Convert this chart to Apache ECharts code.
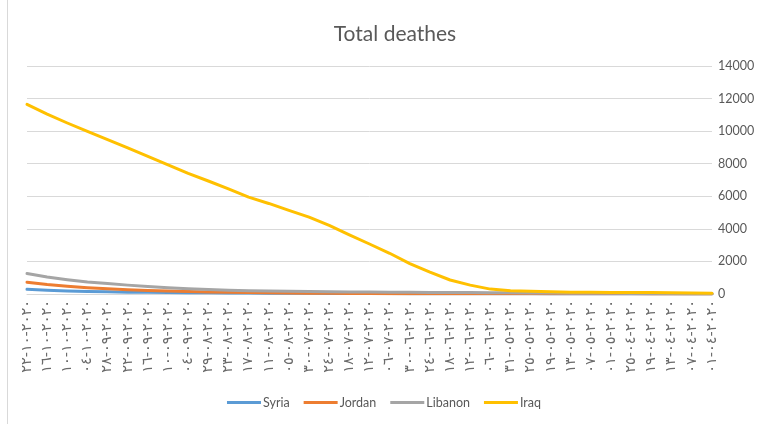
<!DOCTYPE html>
<html>
<head>
<meta charset="utf-8">
<script src="https://cdn.jsdelivr.net/npm/echarts@6/dist/echarts.min.js"></script>
<style>
  html, body { margin: 0; padding: 0; background: #fff; }
  #main { width: 768px; height: 424px; }
</style>
</head>
<body>
<div id="main"></div>
<script>
// dates (logical order yyyy-mm-dd; bidi shows them as dd-mm-yyyy like the sheet)
var categories = [
  "٢٠٢٠-١٠-٢٢", "٢٠٢٠-١٠-١٦", "٢٠٢٠-١٠-١٠", "٢٠٢٠-١٠-٠٤", "٢٠٢٠-٠٩-٢٨",
  "٢٠٢٠-٠٩-٢٢", "٢٠٢٠-٠٩-١٦", "٢٠٢٠-٠٩-١٠", "٢٠٢٠-٠٩-٠٤", "٢٠٢٠-٠٨-٢٩",
  "٢٠٢٠-٠٨-٢٣", "٢٠٢٠-٠٨-١٧", "٢٠٢٠-٠٨-١١", "٢٠٢٠-٠٨-٠٥", "٢٠٢٠-٠٧-٣٠",
  "٢٠٢٠-٠٧-٢٤", "٢٠٢٠-٠٧-١٨", "٢٠٢٠-٠٧-١٢", "٢٠٢٠-٠٧-٠٦", "٢٠٢٠-٠٦-٣٠",
  "٢٠٢٠-٠٦-٢٤", "٢٠٢٠-٠٦-١٨", "٢٠٢٠-٠٦-١٢", "٢٠٢٠-٠٦-٠٦", "٢٠٢٠-٠٥-٣١",
  "٢٠٢٠-٠٥-٢٥", "٢٠٢٠-٠٥-١٩", "٢٠٢٠-٠٥-١٣", "٢٠٢٠-٠٥-٠٧", "٢٠٢٠-٠٥-٠١",
  "٢٠٢٠-٠٤-٢٥", "٢٠٢٠-٠٤-١٩", "٢٠٢٠-٠٤-١٣", "٢٠٢٠-٠٤-٠٧", "٢٠٢٠-٠٤-٠١"
];

var syria = [290, 230, 190, 160, 135, 115, 100, 90, 80, 70,
  60, 55, 50, 45, 40, 36, 32, 28, 24, 20,
  18, 16, 14, 12, 10, 8, 7, 6, 5, 5,
  4, 4, 3, 2, 1];

var jordan = [720, 580, 480, 390, 320, 265, 220, 180, 150, 120,
  100, 85, 70, 60, 50, 40, 30, 25, 20, 18,
  15, 14, 13, 12, 11, 11, 10, 10, 9, 9,
  8, 7, 5, 3, 1];

var libanon = [1260, 1050, 880, 735, 640, 545, 465, 390, 320, 270,
  235, 205, 180, 165, 150, 140, 130, 120, 110, 100,
  95, 90, 85, 80, 70, 60, 55, 50, 45, 40,
  35, 30, 25, 22, 20];

var iraq = [11640, 11050, 10500, 9980, 9480, 8970, 8450, 7930, 7410, 6940,
  6450, 5950, 5560, 5130, 4720, 4210, 3630, 3070, 2500, 1870,
  1340, 860, 545, 300, 200, 165, 135, 115, 105, 95,
  90, 85, 75, 60, 50];

var yTicks = { min: 0, max: 14000, interval: 2000 };

var myChart = echarts.init(document.getElementById("main"));

function lineSeries(name, data, color) {
  return {
    name: name,
    type: "line",
    data: data,
    showSymbol: false,
    symbol: "none",
    lineStyle: { color: color, width: 3, join: "round", cap: "round" },
    itemStyle: { color: color },
    animation: false,
  };
}

var option = {
  backgroundColor: "#ffffff",
  animation: false,
  title: {
    text: "Total deathes",
    left: 390,
    textAlign: "center",
    top: 19,
    textStyle: {
      color: "#595959",
      fontFamily: "Lato",
      fontWeight: "normal",
      fontSize: 21,
    },
  },
  legend: {
    bottom: 10,
    left: "center",
    icon: "rect",
    itemWidth: 34,
    itemHeight: 3,
    itemGap: 14,
    textStyle: { color: "#595959", fontSize: 12.5, fontFamily: "Lato", padding: [0, 0, 0, -3] },
    data: ["Syria", "Jordan", "Libanon", "Iraq"],
  },
  grid: {
    left: 27,
    right: 56,
    top: 66,
    bottom: 130,
  },
  xAxis: {
    type: "category",
    data: categories,
    boundaryGap: false,
    axisLine: { show: true, lineStyle: { color: "#d9d9d9", width: 1 } },
    axisTick: { show: false },
    axisLabel: {
      interval: 0,
      rotate: 90,
      color: "#6a6a6a",
      fontSize: 14.5,
      fontFamily: "DejaVu Sans",
      margin: 6,
    },
    splitLine: { show: false },
  },
  yAxis: {
    type: "value",
    position: "right",
    min: yTicks.min,
    max: yTicks.max,
    interval: yTicks.interval,
    axisLine: { show: false },
    axisTick: { show: false },
    axisLabel: {
      color: "#595959",
      fontSize: 12.5,
      fontFamily: "Lato",
      margin: 6,
      formatter: function (v) { return String(v); },
    },
    splitLine: { lineStyle: { color: "#d9d9d9", width: 1 } },
  },
  graphic: [
    {
      type: "line",
      shape: { x1: 7.5, y1: 0, x2: 7.5, y2: 424 },
      style: { stroke: "#d9d9d9", lineWidth: 1 },
    },
  ],
  series: [
    lineSeries("Syria", syria, "#5B9BD5"),
    lineSeries("Jordan", jordan, "#ED7D31"),
    lineSeries("Libanon", libanon, "#A5A5A5"),
    lineSeries("Iraq", iraq, "#FFC000"),
  ],
};

myChart.setOption(option);
</script>
</body>
</html>
